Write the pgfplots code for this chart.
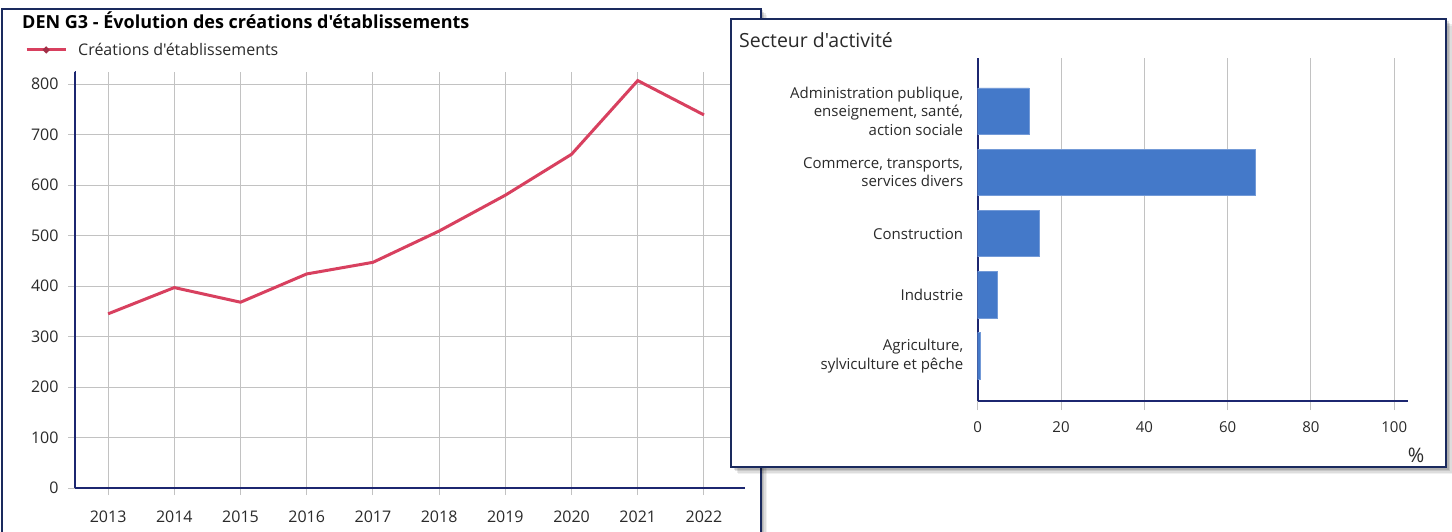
\documentclass[border=0pt]{standalone}
\usepackage{pgfplots}
\pgfplotsset{compat=1.18}
\usepackage{fontspec}
\setmainfont{Open Sans}[Ligatures=TeXOff]
\definecolor{navy}{HTML}{1C2670}
\definecolor{boxc}{HTML}{1A2A5E}
\definecolor{linered}{HTML}{D8405F}
\definecolor{barblue}{HTML}{4479C9}
\definecolor{gridc}{HTML}{C2C2C2}
\definecolor{txt}{HTML}{2A2A2A}
\begin{document}
\begin{tikzpicture}
\begin{scope}[x=1pt,y=1pt]
% ---------- left box ----------
\foreach \o/\a in {6/0.06,4.5/0.08,3/0.10,1.5/0.12}{
  \fill[black,opacity=\a] (2+\o,-10-\o) rectangle (761+\o,522-\o);}
\fill[white] (2,-10) rectangle (761,522);
\draw[boxc,line width=2pt] (2,-10) rectangle (761,522);
\node[anchor=west,inner sep=0pt,text=black,font=\fontsize{18}{21}\selectfont\bfseries] at (22,511) {DEN G3 - Évolution des créations d'établissements};
\end{scope}
\begin{axis}[
  at={(75pt,43pt)}, anchor=south west,
  scale only axis, width=670pt, height=416pt,
  xmin=2012.5, xmax=2022.62, ymin=0, ymax=824,
  axis lines=left, axis line style={navy,line width=2pt,-},
  xtick={2013,2014,2015,2016,2017,2018,2019,2020,2021,2022},
  ytick={0,100,200,300,400,500,600,700,800},
  /pgf/number format/assume math mode=true,
  /pgf/number format/set thousands separator={},
  tick label style={font=\fontsize{16}{19}\selectfont, text=txt},
  xticklabel style={yshift=-12pt},
  yticklabel style={xshift=-6pt},
  grid=major, grid style={gridc,line width=1pt},
  tick align=outside, major tick length=7pt, tick style={gridc,line width=1pt},
  legend style={draw=none, fill=none, inner sep=0pt, at={(axis description cs:-0.0746,1.053)}, anchor=west,
    font=\fontsize{16}{19}\selectfont, text=txt, nodes={inner sep=0pt}},
  legend cell align=left,
  /tikz/every odd column/.append style={column sep=11pt},
  legend image code/.code={\draw[#1] (0pt,0pt) -- (39pt,0pt);
     \fill[linered!75!black] (19.5pt,0pt) circle (1.6pt);},
]
\addplot[linered, line width=3pt] coordinates {
(2013,345) (2014,397) (2015,368) (2016,424) (2017,447)
(2018,509) (2019,580) (2020,661) (2021,807) (2022,739)};
\addlegendentry{Créations d'établissements}
\draw[navy,line width=2pt] (rel axis cs:0,1) -- ++(0pt,8pt);
\end{axis}
% ---------- right box ----------
\begin{scope}[x=1pt,y=1pt]
\foreach \o/\a in {7/0.06,5.5/0.08,4/0.10,2.5/0.12,1/0.14}{
  \fill[black,opacity=\a] (731+\o,64-\o) rectangle (1446+\o,512-\o);}
\fill[white] (731,64) rectangle (1446,512);
\draw[boxc,line width=2pt] (731,64) rectangle (1446,512);
\node[anchor=west,inner sep=0pt,text=txt,font=\fontsize{19.5}{23}\selectfont] at (739,491) {Secteur d'activité};
\end{scope}
\begin{axis}[
  at={(977.7pt,130pt)}, anchor=south west,
  scale only axis, width=430.3pt, height=342.7pt,
  xmin=0, xmax=103.3, ymin=-0.735, ymax=4.864,
  axis lines=left, axis line style={navy,line width=1.8pt,-},
  xbar, bar width=46.5pt,
  xtick={0,20,40,60,80,100},
  ytick={0,1,2,3,4},
  yticklabels={{Agriculture,\\sylviculture et pêche},{Industrie},{Construction},{Commerce, transports,\\services divers},{Administration publique,\\enseignement, santé,\\action sociale}},
  /pgf/number format/assume math mode=true,
  xticklabel style={font=\fontsize{15}{18}\selectfont, text=txt, yshift=-8pt},
  yticklabel style={font=\fontsize{15}{18.5}\selectfont, text=txt, align=right, xshift=-2pt},
  xmajorgrids, grid style={gridc,line width=1pt},
  tick align=outside, major tick length=9pt, x tick style={gridc,line width=1pt},
  y tick style={draw=none},
  xlabel={\%}, xlabel style={at={(axis description cs:1.019,-0.16)}, anchor=center, font=\fontsize{20}{23}\selectfont, text=txt},
]
\addplot[fill=barblue, draw=barblue!75!white, line width=0.8pt] coordinates {
(0.7,0) (4.7,1) (14.9,2) (66.7,3) (12.3,4)};
\draw[navy,line width=1.8pt] (rel axis cs:0,1) -- ++(0pt,6.6pt);
\end{axis}
\pgfresetboundingbox
\useasboundingbox (0pt,0pt) rectangle (1452pt,531pt);
\end{tikzpicture}
\end{document}
